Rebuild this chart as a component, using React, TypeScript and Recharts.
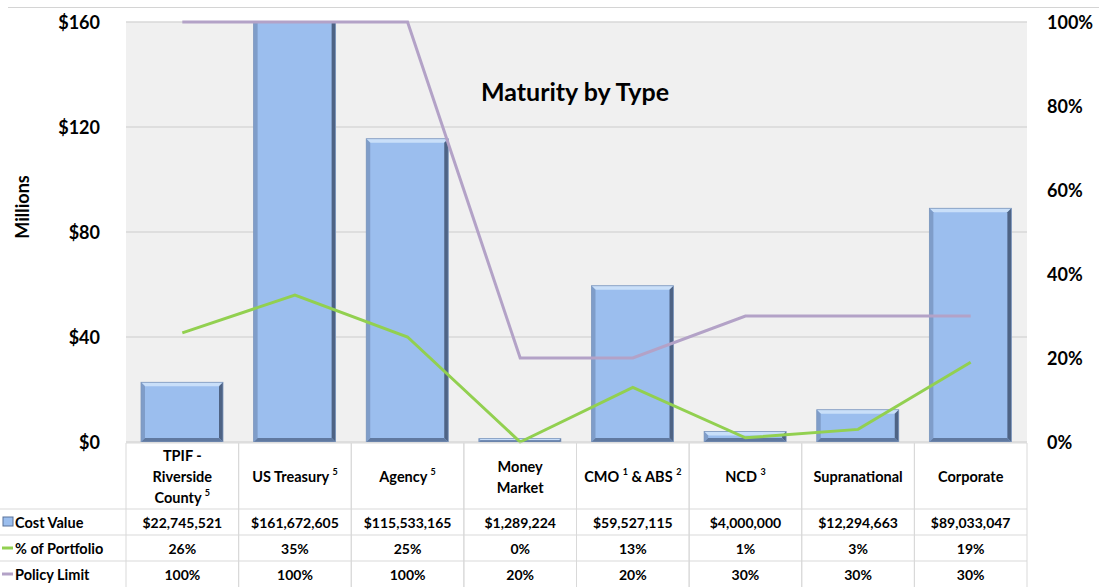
import React from 'react';
import { ComposedChart, Bar, Line, XAxis, YAxis, CartesianGrid } from 'recharts';

const categories = [
  'TPIF - Riverside County',
  'US Treasury',
  'Agency',
  'Money Market',
  'CMO & ABS',
  'NCD',
  'Supranational',
  'Corporate',
];
// header cell text: '|' = line break, text between ^...^ = superscript
const headerLabels = [
  'TPIF -|Riverside|County ^5^',
  'US Treasury ^5^',
  'Agency ^5^',
  'Money|Market',
  'CMO ^1^ & ABS ^2^',
  'NCD ^3^',
  'Supranational',
  'Corporate',
];
const costValue = [22745521, 161672605, 115533165, 1289224, 59527115, 4000000, 12294663, 89033047];
const pctPortfolio = [26, 35, 25, 0, 13, 1, 3, 19];
const policyLimit = [100, 100, 100, 20, 20, 30, 30, 30];
const leftTicks = [0, 40, 80, 120, 160];
const rightTicks = [0, 20, 40, 60, 80, 100];
const rowLabels = ['Cost Value', '% of Portfolio', 'Policy Limit'];

const data = categories.map((c, i) => ({
  category: c,
  cost: costValue[i] / 1e6,
  pct: pctPortfolio[i],
  limit: policyLimit[i],
}));

const FONT = 'Lato, "Open Sans", sans-serif';
const BAR_FILL = '#9BBEEE';
const GREEN = '#92D050';
const LAVENDER = '#B3A2C7';
const TABLE_LINE = '#D9D9D9';

const BevelBar = (props: any) => {
  const { x, y, width: w, height: h } = props;
  if (h == null || h <= 0 || !w) return null;
  const b = Math.min(4, h / 2, w / 2);
  return (
    <g>
      <rect x={x} y={y} width={w} height={h} fill={BAR_FILL} />
      <polygon points={`${x},${y} ${x + w},${y} ${x + w - b},${y + b} ${x + b},${y + b}`} fill="#C9DFF9" />
      <polygon points={`${x},${y} ${x + b},${y + b} ${x + b},${y + h - b} ${x},${y + h}`} fill="#7F9DC9" />
      <polygon points={`${x + w},${y} ${x + w},${y + h} ${x + w - b},${y + h - b} ${x + w - b},${y + b}`} fill="#4E6384" />
      <polygon points={`${x},${y + h} ${x + w},${y + h} ${x + w - b},${y + h - b} ${x + b},${y + h - b}`} fill="#6079A0" />
      <rect x={x} y={y} width={w} height={h} fill="none" stroke="#7E97BC" strokeWidth={0.8} />
    </g>
  );
};

const renderSegments = (line: string) => {
  const parts = line.split('^');
  const out: any[] = [];
  let shifted = false;
  parts.forEach((p, k) => {
    if (!p) return;
    const sup = k % 2 === 1;
    let dy = 0;
    if (sup && !shifted) { dy = -5; shifted = true; }
    else if (!sup && shifted) { dy = 5; shifted = false; }
    out.push(
      <tspan key={k} dy={dy} fontSize={sup ? 9 : 14.5}>{p}</tspan>
    );
  });
  return out;
};

const HEADER_H = 66;
const ROW_H = 26;

const TableTick = (props: any) => {
  const { x, y, payload } = props;
  const i = payload.index ?? props.index ?? 0;
  const half = payload.offset || 56.3;
  const left = x - half;
  const right = x + half;
  const top = y + 1;
  const lines = headerLabels[i].split('|');
  const headerCenter = top + HEADER_H / 2;
  const rowsY = [top + HEADER_H, top + HEADER_H + ROW_H, top + HEADER_H + 2 * ROW_H, top + HEADER_H + 3 * ROW_H];
  const values = [
    '$' + costValue[i].toLocaleString('en-US'),
    pctPortfolio[i] + '%',
    policyLimit[i] + '%',
  ];
  return (
    <g fontFamily={FONT} fontWeight={700} fill="#000">
      <line x1={left} x2={right} y1={top} y2={top} stroke={TABLE_LINE} />
      <line x1={left} x2={left} y1={top} y2={rowsY[3]} stroke={TABLE_LINE} />
      <line x1={right} x2={right} y1={top} y2={rowsY[3]} stroke={TABLE_LINE} />
      {rowsY.slice(0, 3).map((ry, k) => (
        <line key={k} x1={i === 0 ? 0 : left} x2={right} y1={ry} y2={ry} stroke={TABLE_LINE} />
      ))}
      {lines.map((ln, k) => (
        <text
          key={k}
          x={x}
          y={headerCenter + (k - (lines.length - 1) / 2) * 21}
          textAnchor="middle"
          dominantBaseline="central"
          fontSize={14.5}
        >
          {renderSegments(ln)}
        </text>
      ))}
      {values.map((v, k) => (
        <text key={k} x={x} y={rowsY[k] + ROW_H / 2} textAnchor="middle" dominantBaseline="central" fontSize={14}>
          {v}
        </text>
      ))}
      {i === 0 && (
        <g>
          {rowLabels.map((lab, k) => {
            const cy = rowsY[k] + ROW_H / 2;
            return (
              <g key={k}>
                {k === 0 ? (
                  <g>
                    <rect x={3} y={cy - 5} width={10} height={9} fill={BAR_FILL} stroke="#5A7299" strokeWidth={1} />
                  </g>
                ) : (
                  <line x1={2} x2={13} y1={cy} y2={cy} stroke={k === 1 ? GREEN : LAVENDER} strokeWidth={3} />
                )}
                <text x={15} y={cy} dominantBaseline="central" fontSize={14.5}>{lab}</text>
              </g>
            );
          })}
        </g>
      )}
    </g>
  );
};

const LeftTick = (props: any) => {
  const { x, y, payload } = props;
  return (
    <text x={x} y={y} textAnchor="end" dominantBaseline="central" fontFamily={FONT} fontWeight={700} fontSize={18} fill="#000">
      {'$' + payload.value}
    </text>
  );
};

const RightTick = (props: any) => {
  const { x, y, payload } = props;
  return (
    <text x={x} y={y} textAnchor="start" dominantBaseline="central" fontFamily={FONT} fontWeight={700} fontSize={18} fill="#000">
      {payload.value + '%'}
    </text>
  );
};

const MillionsLabel = (props: any) => {
  const vb = props.viewBox || { x: 0, y: 22, width: 126, height: 420 };
  const cx = vb.x + 22;
  const cy = vb.y + vb.height / 2 - 25;
  return (
    <text
      x={cx}
      y={cy}
      transform={`rotate(-90 ${cx} ${cy})`}
      textAnchor="middle"
      dominantBaseline="central"
      fontFamily={FONT}
      fontWeight={700}
      fontSize={18}
      fill="#000"
    >
      Millions
    </text>
  );
};

export default function App() {
  return (
    <div style={{ position: 'absolute', left: 0, top: 0, width: 1099, height: 587, background: '#fff' }}>
      <div style={{ position: 'absolute', left: 8, right: 0, top: 7, height: 1, background: '#D4D4D4' }} />
      <ComposedChart
        width={1099}
        height={587}
        data={data}
        margin={{ top: 22, right: 0, left: 0, bottom: 0 }}
        barCategoryGap="27%"
      >
        <CartesianGrid yAxisId="left" vertical={false} stroke="#D9D9D9" fill="#F0F0F0" strokeWidth={1.5} />
        <XAxis
          dataKey="category"
          xAxisId={0}
          height={145}
          axisLine={false}
          tickLine={false}
          tickSize={0}
          tickMargin={0}
          interval={0}
          tick={<TableTick />}
        />
        <YAxis
          yAxisId="left"
          orientation="left"
          width={126}
          domain={[0, 160]}
          ticks={leftTicks}
          allowDataOverflow
          axisLine={false}
          tickLine={false}
          tickSize={0}
          tickMargin={26}
          tick={<LeftTick />}
          label={<MillionsLabel />}
        />
        <YAxis
          yAxisId="right"
          orientation="right"
          width={72}
          domain={[0, 100]}
          ticks={rightTicks}
          axisLine={false}
          tickLine={false}
          tickSize={0}
          tickMargin={20}
          tick={<RightTick />}
        />
        <Bar yAxisId="left" dataKey="cost" barSize={82} shape={<BevelBar />} isAnimationActive={false} />
        <Line yAxisId="right" dataKey="limit" stroke={LAVENDER} strokeWidth={3} dot={false} type="linear" isAnimationActive={false} />
        <Line yAxisId="right" dataKey="pct" stroke={GREEN} strokeWidth={3} dot={false} type="linear" isAnimationActive={false} />
      </ComposedChart>
      <div
        style={{
          position: 'absolute',
          left: 0,
          width: 1150,
          top: 76,
          textAlign: 'center',
          fontFamily: FONT,
          fontWeight: 700,
          fontSize: 25,
          color: '#000',
          lineHeight: '30px',
        }}
      >
        Maturity by Type
      </div>
    </div>
  );
}
